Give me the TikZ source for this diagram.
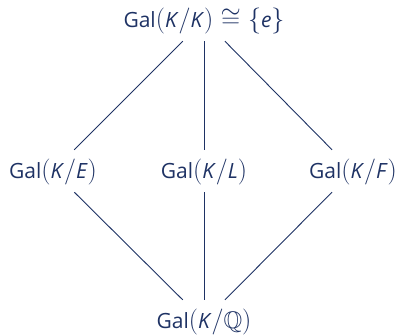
\RequirePackage{fix-cm}
\documentclass[tikz,border=0pt]{standalone}
\usepackage{amssymb}
\usepackage{fontspec}
\setmainfont{Open Sans}
\definecolor{navy}{RGB}{30,50,100}
\newcommand\gk{\textit{K}}
\newcommand\gbig[1]{{\fontsize{26}{30}\selectfont$#1$}}
\newcommand\glp{\gbig{(}}
\newcommand\grp{\gbig{)}}
\newcommand\gsl{\gbig{/}}
\begin{document}
\begin{tikzpicture}[x=1pt,y=-1pt,
  grp/.style={text=navy, font=\fontsize{21}{25}\selectfont, text height=18pt, text depth=4pt, inner ysep=10pt, inner xsep=4pt},
  lnk/.style={draw=navy, line width=0.9pt}]
\useasboundingbox (0,0) rectangle (401,335);
\node[grp] (top) at (204,20) {Gal\glp\gk\gsl\gk\grp\gbig{\;\cong\{}\textit{e}\gbig{\}}};
\node[grp] (e) at (53,171) {Gal\glp\gk\gsl\textit{E}\grp};
\node[grp] (l) at (204,171) {Gal\glp\gk\gsl\textit{L}\grp};
\node[grp] (f) at (353,171) {Gal\glp\gk\gsl\textit{F}\grp};
\node[grp] (q) at (204,321) {Gal\glp\gk\gsl{\fontsize{24}{28}\selectfont$\mathbb{Q}$}\grp};
\draw[lnk] (top) -- (e);
\draw[lnk] (top) -- (l);
\draw[lnk] (top) -- (f);
\draw[lnk] (e) -- (q);
\draw[lnk] (l) -- (q);
\draw[lnk] (f) -- (q);
\end{tikzpicture}
\end{document}
